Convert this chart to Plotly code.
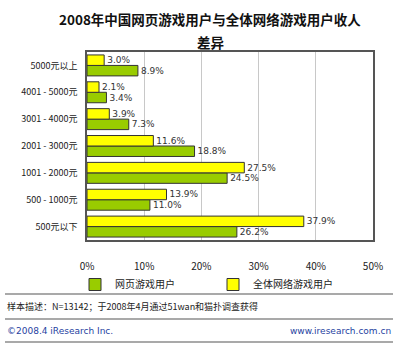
import plotly.graph_objects as go

# Income brackets (bottom to top on the chart)
categories = ["500元以下", "500 - 1000元", "1001 - 2000元", "2001 - 3000元",
              "3001 - 4000元", "4001 - 5000元", "5000元以上"]
webgame_users = [26.2, 11.0, 24.5, 18.8, 7.3, 3.4, 8.9]     # 网页游戏用户
all_online_users = [37.9, 13.9, 27.5, 11.6, 3.9, 2.1, 3.0]  # 全体网络游戏用户
x_ticks = [0, 10, 20, 30, 40, 50]
x_tick_labels = ["0%", "10%", "20%", "30%", "40%", "50%"]
title_lines = ["2008年中国网页游戏用户与全体网络游戏用户收人", "差异"]

FONT = "Noto Sans CJK SC"
LABEL_FONT = "DejaVu Sans"
W, H = 400, 344
L, R, T, B = 87, 27, 52, 104

fig = go.Figure()
fig.add_trace(go.Bar(
    y=categories, x=webgame_users, orientation="h", name="网页游戏用户",
    marker=dict(color="#99CC00", line=dict(color="#333333", width=1)),
    text=[f"{v:.1f}%" for v in webgame_users], textposition="outside",
    constraintext="none",
    textfont=dict(size=9, color="#333333", family=LABEL_FONT), cliponaxis=False,
))
fig.add_trace(go.Bar(
    y=categories, x=all_online_users, orientation="h", name="全体网络游戏用户",
    marker=dict(color="#FFFF00", line=dict(color="#333333", width=1)),
    text=[f"{v:.1f}%" for v in all_online_users], textposition="outside",
    constraintext="none",
    textfont=dict(size=9, color="#333333", family=LABEL_FONT), cliponaxis=False,
))

pw = W - L - R
ph = H - T - B


def px_x(p):
    return (p - L) / pw


def px_y(p):
    return (H - B - p) / ph


shapes = []
# separator lines for footer
for yy in (294, 319, 342):
    shapes.append(dict(type="line", xref="paper", yref="paper",
                       x0=px_x(5), x1=px_x(393), y0=px_y(yy), y1=px_y(yy),
                       line=dict(color="#555555", width=1.2)))

annotations = [
    dict(text=f"<b>{title_lines[0]}</b>", xref="paper", yref="paper",
         x=px_x(210), y=px_y(19), xanchor="center", yanchor="middle",
         showarrow=False, font=dict(size=13.5, color="#111111", family=FONT)),
    dict(text=f"<b>{title_lines[1]}</b>", xref="paper", yref="paper",
         x=px_x(210), y=px_y(42), xanchor="center", yanchor="middle",
         showarrow=False, font=dict(size=13.5, color="#111111", family=FONT)),
    dict(text="样本描述：N=13142；于2008年4月通过51wan和猫扑调查获得",
         xref="paper", yref="paper", x=px_x(5), y=px_y(306),
         xanchor="left", yanchor="middle", showarrow=False,
         font=dict(size=9, color="#222222", family=FONT)),
    dict(text="©2008.4 iResearch Inc.",
         xref="paper", yref="paper", x=px_x(5), y=px_y(331),
         xanchor="left", yanchor="middle", showarrow=False,
         font=dict(size=9, color="#1F3F9F", family="Verdana, DejaVu Sans")),
    dict(text="www.iresearch.com.cn",
         xref="paper", yref="paper", x=px_x(393), y=px_y(331),
         xanchor="right", yanchor="middle", showarrow=False,
         font=dict(size=9, color="#1F3F9F", family="Verdana, DejaVu Sans")),
]

fig.update_layout(
    width=W, height=H,
    margin=dict(l=L, r=R, t=T, b=B, pad=0),
    paper_bgcolor="white", plot_bgcolor="white",
    barmode="group", bargap=0.22, bargroupgap=0,
    xaxis=dict(range=[0, 50], tickvals=x_ticks, ticktext=x_tick_labels,
               showgrid=True, gridcolor="#C8C8C8", gridwidth=1,
               zeroline=False, showline=True, linecolor="#555555",
               linewidth=1.5, mirror=True, ticks="", ticklabelstandoff=16,
               tickfont=dict(size=10, color="#222222", family=FONT)),
    yaxis=dict(showgrid=False, showline=True, linecolor="#555555",
               linewidth=1.5, mirror=True, ticks="", ticklabelstandoff=6,
               tickfont=dict(size=9, color="#222222", family=FONT)),
    showlegend=True,
    legend=dict(orientation="h", x=px_x(75), y=px_y(270),
                xanchor="left", yanchor="top", entrywidth=93,
                font=dict(size=10, color="#222222", family=FONT),
                itemwidth=30, bgcolor="rgba(0,0,0,0)"),
    shapes=shapes, annotations=annotations,
)

fig.write_html("out.html")
